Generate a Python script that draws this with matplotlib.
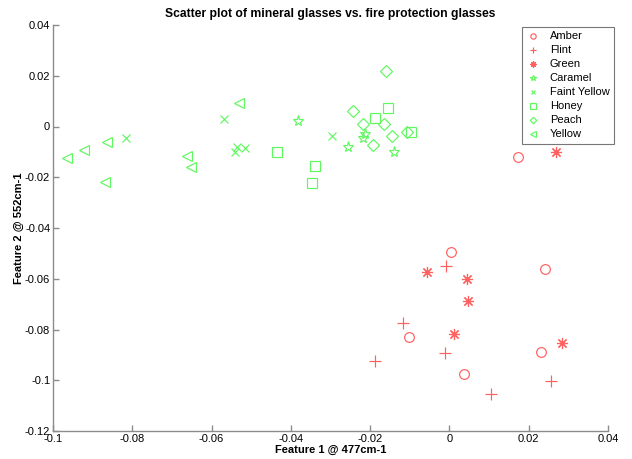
import matplotlib
matplotlib.use("Agg")
import matplotlib.pyplot as plt

plt.rcParams['font.family'] = ['Liberation Sans', 'DejaVu Sans']

title = "Scatter plot of mineral glasses vs. fire protection glasses"
xlabel = "Feature 1 @ 477cm-1"
ylabel = "Feature 2 @ 552cm-1"

x_ticks = [-0.1, -0.08, -0.06, -0.04, -0.02, 0, 0.02, 0.04]
x_tick_labels = ["-0.1", "-0.08", "-0.06", "-0.04", "-0.02", "0", "0.02", "0.04"]
y_ticks = [0.04, 0.02, 0, -0.02, -0.04, -0.06, -0.08, -0.1, -0.12]
y_tick_labels = ["0.04", "0.02", "0", "-0.02", "-0.04", "-0.06", "-0.08", "-0.1", "-0.12"]

amber_x = [0.0172, 0.0003, 0.0240, -0.0103, 0.0230, 0.0038]
amber_y = [-0.0122, -0.0493, -0.0560, -0.0828, -0.0887, -0.0974]

flint_x = [-0.0008, -0.0116, -0.0010, -0.0187, 0.0255, 0.0106]
flint_y = [-0.0548, -0.0773, -0.0891, -0.0926, -0.1001, -0.1056]

green_x = [0.0270, -0.0056, 0.0045, 0.0048, 0.0012, 0.0285]
green_y = [-0.0102, -0.0575, -0.0600, -0.0686, -0.0816, -0.0855]

caramel_x = [-0.0381, -0.0219, -0.0214, -0.0255, -0.0139]
caramel_y = [0.0020, -0.0047, -0.0028, -0.0079, -0.0099]

faint_x = [-0.0815, -0.0568, -0.0537, -0.0540, -0.0515, -0.0295]
faint_y = [-0.0047, 0.0028, -0.0079, -0.0099, -0.0083, -0.0039]

honey_x = [-0.0154, -0.0187, -0.0096, -0.0436, -0.0340, -0.0346]
honey_y = [0.0071, 0.0032, -0.0020, -0.0102, -0.0154, -0.0221]

peach_x = [-0.0159, -0.0242, -0.0219, -0.0164, -0.0146, -0.0192, -0.0106]
peach_y = [0.0217, 0.0063, 0.0008, 0.0008, -0.0039, -0.0071, -0.0020]

yellow_x = [-0.0965, -0.0923, -0.0863, -0.0868, -0.0661, -0.0653, -0.0530]
yellow_y = [-0.0126, -0.0091, -0.0063, -0.0217, -0.0118, -0.0158, 0.0091]

RED = '#ff6060'
GRN = '#60f860'

series = [
    ("Amber", amber_x, amber_y, 'o', RED, 7),
    ("Flint", flint_x, flint_y, '+', RED, 8),
    ("Green", green_x, green_y, (8, 2, 0), RED, 8),
    ("Caramel", caramel_x, caramel_y, '*', GRN, 8),
    ("Faint Yellow", faint_x, faint_y, 'x', GRN, 6),
    ("Honey", honey_x, honey_y, 's', GRN, 7),
    ("Peach", peach_x, peach_y, 'D', GRN, 6),
    ("Yellow", yellow_x, yellow_y, '<', GRN, 7),
]

fig = plt.figure(figsize=(6.32, 4.59), dpi=100)
ax = fig.add_axes([53/632, 1 - 431/459, (608-53)/632, (431-25)/459])

for name, xs, ys, m, c, ms in series:
    ax.plot(xs, ys, linestyle='none', marker=m, markersize=ms,
            markerfacecolor='none', markeredgecolor=c, markeredgewidth=0.85, label=name)

ax.set_xlim(-0.1, 0.04)
ax.set_ylim(-0.12, 0.04)
ax.set_xticks(x_ticks)
ax.set_xticklabels(x_tick_labels)
ax.set_yticks(y_ticks)
ax.set_yticklabels(y_tick_labels)

for s in ['top', 'right']:
    ax.spines[s].set_visible(False)
for s in ['left', 'bottom']:
    ax.spines[s].set_color('#8c8c8c')
    ax.spines[s].set_linewidth(1.0)
ax.tick_params(direction='in', length=4, width=1.0, color='#8c8c8c',
               labelsize=8, labelcolor='black', pad=2)

ax.set_title(title, fontsize=8.7, fontweight='bold', pad=6)
ax.set_xlabel(xlabel, fontsize=8, fontweight='bold', labelpad=1)
ax.set_ylabel(ylabel, fontsize=8, fontweight='bold', labelpad=0.5)

leg = ax.legend(loc='upper left', bbox_to_anchor=(522/632, 1 - 27/459),
                bbox_transform=fig.transFigure, fontsize=8, frameon=True,
                fancybox=False, markerscale=0.55, handlelength=1.2,
                handletextpad=0.9, labelspacing=0.36, borderpad=0.4,
                borderaxespad=0)
leg.get_frame().set_edgecolor('#555555')
leg.get_frame().set_linewidth(0.8)

fig.savefig("out.png", dpi=100)
